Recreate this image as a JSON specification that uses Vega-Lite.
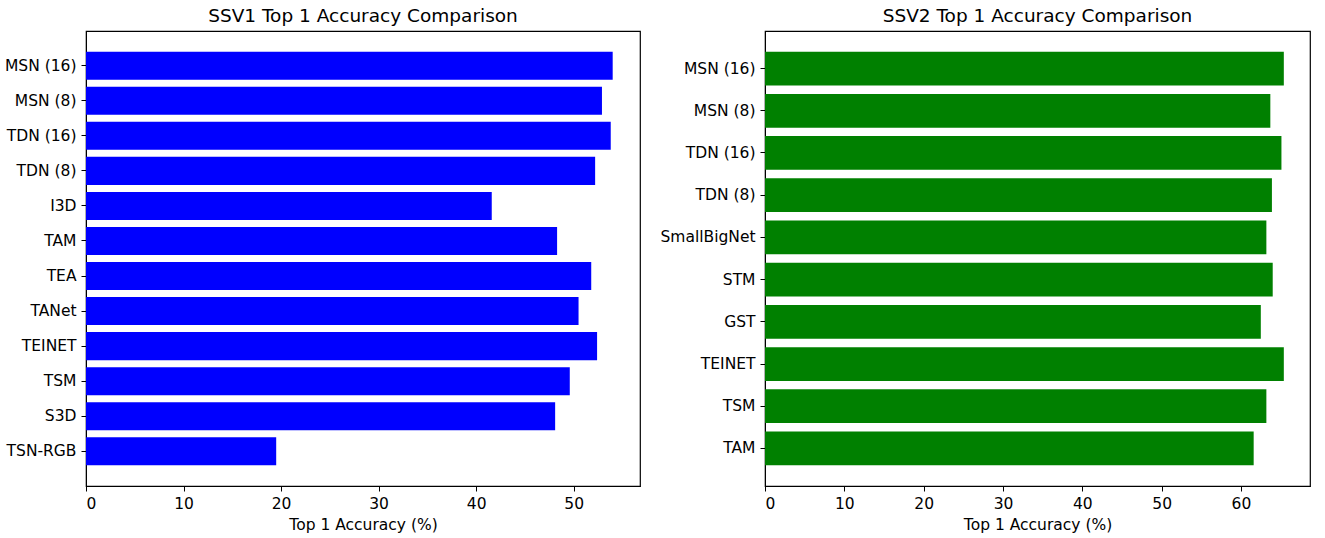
{
  "$schema": "https://vega.github.io/schema/vega-lite/v6.json",
  "padding": {"left": 3, "top": 5, "right": 10, "bottom": 5},
  "background": "white",
  "datasets": {
    "ssv1": [
      {"model": "MSN (16)", "acc": 54.0},
      {"model": "MSN (8)", "acc": 52.9},
      {"model": "TDN (16)", "acc": 53.8},
      {"model": "TDN (8)", "acc": 52.2},
      {"model": "I3D", "acc": 41.6},
      {"model": "TAM", "acc": 48.3},
      {"model": "TEA", "acc": 51.8},
      {"model": "TANet", "acc": 50.5},
      {"model": "TEINET", "acc": 52.4},
      {"model": "TSM", "acc": 49.6},
      {"model": "S3D", "acc": 48.1},
      {"model": "TSN-RGB", "acc": 19.5}
    ],
    "ssv2": [
      {"model": "MSN (16)", "acc": 65.4},
      {"model": "MSN (8)", "acc": 63.7},
      {"model": "TDN (16)", "acc": 65.1},
      {"model": "TDN (8)", "acc": 63.9},
      {"model": "SmallBigNet", "acc": 63.2},
      {"model": "STM", "acc": 64.0},
      {"model": "GST", "acc": 62.5},
      {"model": "TEINET", "acc": 65.4},
      {"model": "TSM", "acc": 63.2},
      {"model": "TAM", "acc": 61.6}
    ]
  },
  "hconcat": [
    {
      "title": "SSV1 Top 1 Accuracy Comparison",
      "width": 554,
      "height": 455,
      "data": {"name": "ssv1"},
      "mark": {"type": "bar", "color": "#0000ff"},
      "encoding": {
        "y": {
          "field": "model",
          "type": "nominal",
          "sort": null,
          "title": null,
          "scale": {"paddingInner": 0.2, "paddingOuter": 0.59}
        },
        "x": {
          "field": "acc",
          "type": "quantitative",
          "title": "Top 1 Accuracy (%)",
          "scale": {"domain": [0, 56.8], "nice": false},
          "axis": {"values": [0, 10, 20, 30, 40, 50]}
        }
      }
    },
    {
      "title": "SSV2 Top 1 Accuracy Comparison",
      "width": 545,
      "height": 455,
      "data": {"name": "ssv2"},
      "mark": {"type": "bar", "color": "#008000"},
      "encoding": {
        "y": {
          "field": "model",
          "type": "nominal",
          "sort": null,
          "title": null,
          "scale": {"paddingInner": 0.2, "paddingOuter": 0.49}
        },
        "x": {
          "field": "acc",
          "type": "quantitative",
          "title": "Top 1 Accuracy (%)",
          "scale": {"domain": [0, 68.7], "nice": false},
          "axis": {"values": [0, 10, 20, 30, 40, 50, 60]}
        }
      }
    }
  ],
  "spacing": 18,
  "config": {
    "font": "DejaVu Sans",
    "view": {"stroke": "#000000", "strokeWidth": 1.2},
    "title": {"fontSize": 18.5, "fontWeight": "normal", "color": "#000000", "offset": 6},
    "axis": {
      "grid": false,
      "domainColor": "#000000",
      "tickColor": "#000000",
      "tickSize": 5,
      "labelFontSize": 15.5,
      "labelColor": "#000000",
      "labelPadding": 5,
      "titleFontSize": 15.5,
      "titleFontWeight": "normal",
      "titleColor": "#000000",
      "titlePadding": 6
    }
  }
}
